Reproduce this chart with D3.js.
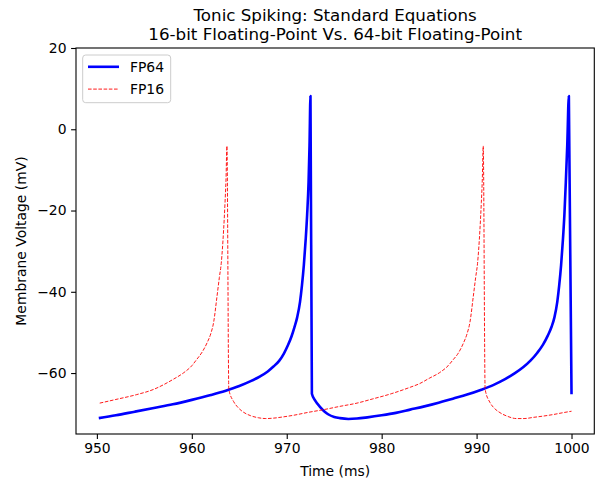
<!DOCTYPE html>
<html>
<head>
<meta charset="utf-8">
<script src="https://cdn.jsdelivr.net/npm/d3@7"></script>
<style>
  body { margin: 0; background: #fff; }
  svg { display: block; font-family: "DejaVu Sans", sans-serif; }
  .tick text { font-size: 13.9px; fill: #000; }
</style>
</head>
<body>
<svg width="606" height="484"></svg>
<script>
// FP64 trace (time in ms, membrane voltage in mV)
var fp64Time = [950.2, 952.0, 954.0, 956.0, 958.0, 960.0, 962.0, 963.5, 965.0, 966.2,
  967.2, 968.0, 968.6, 969.2, 969.7, 970.1, 970.5, 970.8, 971.1, 971.4,
  971.6, 971.8, 972.0, 972.15, 972.3, 972.4, 972.5, 972.65, 973.0, 973.5,
  974.0, 974.4, 975.0, 975.6, 976.5, 977.4, 978.5, 980.0, 981.5, 983.0,
  984.5, 986.0, 987.5, 989.0, 990.5, 991.8, 993.0, 994.0, 994.9, 995.7,
  996.4, 997.0, 997.5, 997.9, 998.2, 998.5, 998.7, 998.9, 999.1, 999.25,
  999.4, 999.55, 999.72, 1000.0];
var fp64Volt = [-71.1, -70.4, -69.5, -68.6, -67.7, -66.6, -65.4, -64.4, -63.2, -62.0,
  -60.8, -59.6, -58.4, -57.0, -55.2, -53.3, -51.0, -48.8, -46.3, -42.5,
  -38.5, -33.5, -27.0, -21.0, -13.0, -4.0, 8.2, -65.1, -66.8, -68.3,
  -69.5, -70.2, -70.8, -71.1, -71.3, -71.2, -70.9, -70.4, -69.8, -69.0,
  -68.2, -67.3, -66.3, -65.3, -64.1, -62.9, -61.5, -60.1, -58.6, -56.9,
  -55.0, -53.0, -50.8, -48.6, -46.3, -42.5, -38.5, -33.5, -27.0, -21.0,
  -13.0, -4.0, 8.2, -65.2];

// FP16 trace
var fp16Time = [950.3, 952.0, 954.2, 956.0, 957.0, 958.0, 959.1, 960.0, 960.5, 961.1,
  961.6, 962.0, 962.3, 962.65, 962.9, 963.1, 963.35, 963.5, 963.6, 963.7,
  963.9, 964.4, 964.8, 965.3, 966.2, 967.0, 967.8, 968.6, 969.6, 970.7,
  972.2, 973.9, 975.6, 977.4, 979.0, 981.0, 983.0, 984.0, 985.0, 986.1,
  987.0, 987.5, 988.1, 988.6, 989.0, 989.3, 989.65, 989.9, 990.1, 990.35,
  990.5, 990.6, 990.7, 990.9, 991.4, 991.8, 992.3, 993.2, 994.2, 995.0,
  996.0, 997.0, 998.1, 999.0, 1000.0];
var fp16Volt = [-67.4, -66.5, -65.3, -64.0, -62.9, -61.6, -60.0, -58.2, -56.7, -54.8,
  -52.6, -50.3, -47.5, -41.2, -36.5, -33.0, -24.8, -18.0, -12.5, -4.1,
  -64.0, -67.0, -68.3, -69.4, -70.5, -71.0, -71.2, -71.1, -70.8, -70.4,
  -69.7, -69.0, -68.2, -67.4, -66.4, -65.1, -63.5, -62.6, -61.3, -59.9,
  -58.2, -56.8, -55.0, -52.7, -50.3, -47.5, -41.2, -36.5, -33.0, -24.8,
  -18.0, -12.5, -4.1, -64.0, -67.2, -68.5, -69.5, -70.6, -71.2, -71.2,
  -70.9, -70.6, -70.2, -69.8, -69.4];

var xTicks = [950, 960, 970, 980, 990, 1000];
var yTicks = [-60, -40, -20, 0, 20];
var titleLines = ['Tonic Spiking: Standard Equations', '16-bit Floating-Point Vs. 64-bit Floating-Point'];

document.addEventListener('DOMContentLoaded', function(){
  var svg = d3.select('svg');
  var left = 76, right = 594.3, top = 48, bottom = 434;

  var x = d3.scaleLinear().domain([947.8, 1002.4]).range([left, right]);
  var y = d3.scaleLinear().domain([-75, 20]).range([bottom, top]);

  const toPoints = function(ts, vs) {
    return ts.map(function(t, i){ return [t, vs[i]]; });
  };
  var line = d3.line()
    .curve(d3.curveMonotoneX)
    .x(function(d){ return x(d[0]); })
    .y(function(d){ return y(d[1]); });

  // traces
  svg.append('path')
    .attr('d', line(toPoints(fp64Time, fp64Volt)))
    .attr('fill', 'none')
    .attr('stroke', '#0000ff')
    .attr('stroke-width', 2.6)
    .attr('stroke-linejoin', 'round');
  svg.append('path')
    .attr('d', line(toPoints(fp16Time, fp16Volt)))
    .attr('fill', 'none')
    .attr('stroke', '#ff0000')
    .attr('stroke-width', 0.9)
    .attr('stroke-dasharray', '3.6,1.6');

  // axes
  var xAxis = svg.append('g')
    .attr('transform', 'translate(0,' + bottom + ')')
    .call(d3.axisBottom(x).tickValues(xTicks).tickSize(4.9).tickPadding(4.6).tickFormat(d3.format('d')));
  var yAxis = svg.append('g')
    .attr('transform', 'translate(' + left + ',0)')
    .call(d3.axisLeft(y).tickValues(yTicks).tickSize(4.9).tickPadding(4.6).tickFormat(d3.format('d')));
  [xAxis, yAxis].forEach(function(g){
    g.select('.domain').remove();
    g.selectAll('.tick line').attr('stroke', '#000').attr('stroke-width', 1.1);
    g.attr('font-family', null).attr('font-size', null);
  });

  // frame
  svg.append('rect')
    .attr('x', left).attr('y', top)
    .attr('width', right - left).attr('height', bottom - top)
    .attr('fill', 'none').attr('stroke', '#000').attr('stroke-width', 1.1);

  // title
  svg.selectAll('.title')
    .data(titleLines)
  .enter().append('text')
    .attr('class', 'title')
    .text(function(d){ return d; })
    .attr('text-anchor', 'middle')
    .attr('x', (left + right) / 2)
    .attr('y', function(d, i){ return 20.5 + i * 19.5; })
    .attr('font-size', 16.7);

  // axis labels
  svg.append('text')
    .text('Time (ms)')
    .attr('text-anchor', 'middle')
    .attr('x', (left + right) / 2)
    .attr('y', 476)
    .attr('font-size', 13.9);
  svg.append('text')
    .text('Membrane Voltage (mV)')
    .attr('text-anchor', 'middle')
    .attr('transform', 'translate(26,' + ((top + bottom) / 2) + ') rotate(-90)')
    .attr('font-size', 13.9);

  // legend
  var legend = svg.append('g');
  legend.append('rect')
    .attr('x', 82.7).attr('y', 55)
    .attr('width', 88).attr('height', 47.7)
    .attr('rx', 3)
    .attr('fill', '#fff').attr('fill-opacity', 0.8)
    .attr('stroke', '#cccccc').attr('stroke-width', 1);
  var items = [
    { name: 'FP64', color: '#0000ff', width: 2.6, dash: null },
    { name: 'FP16', color: '#ff0000', width: 0.9, dash: '3.6,1.6' }
  ];
  items.forEach(function(item, i){
    var cy = 66.8 + i * 22.3;
    legend.append('line')
      .attr('x1', 88).attr('x2', 119)
      .attr('y1', cy).attr('y2', cy)
      .attr('stroke', item.color)
      .attr('stroke-width', item.width)
      .attr('stroke-dasharray', item.dash);
    legend.append('text')
      .text(item.name)
      .attr('x', 130).attr('y', cy)
      .attr('dy', '0.36em')
      .attr('font-size', 13.9);
  });
});
</script>
</body>
</html>
